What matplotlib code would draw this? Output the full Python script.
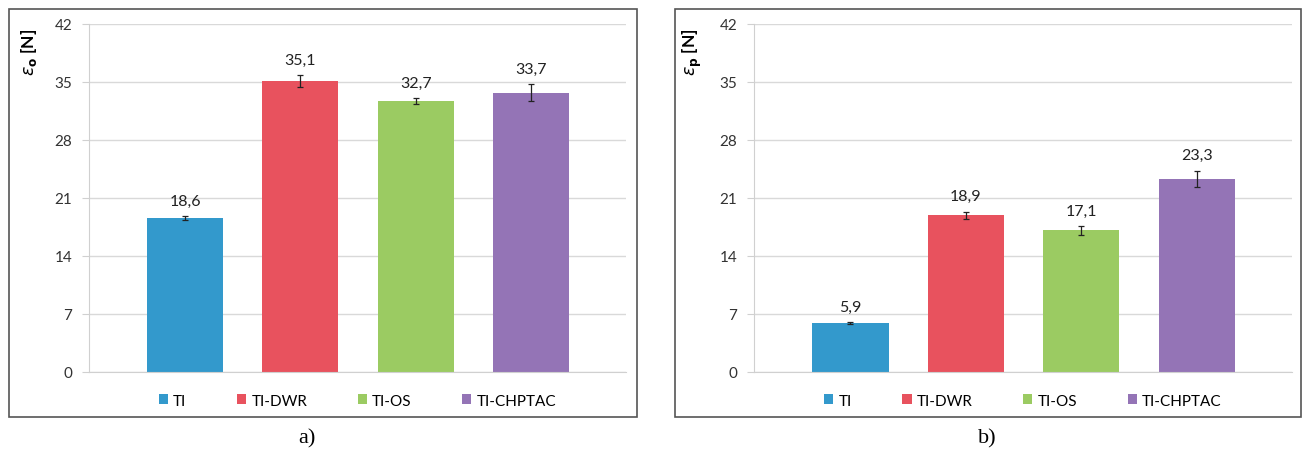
import matplotlib
matplotlib.use("Agg")
import matplotlib.pyplot as plt
from matplotlib.patches import Rectangle

# data
categories = ['TI', 'TI-DWR', 'TI-OS', 'TI-CHPTAC']
eps_o = [18.6, 35.1, 32.7, 33.7]
eps_o_err = [0.2, 0.7, 0.4, 1.0]
eps_p = [5.9, 18.9, 17.1, 23.3]
eps_p_err = [0.1, 0.45, 0.55, 1.0]
yticks = [0, 7, 14, 21, 28, 35, 42]
colors = ['#3399CC', '#E8525E', '#9BCB62', '#9474B6']

plt.rcParams['font.family'] = ['Lato', 'DejaVu Sans']

W, H = 1305, 452
fig = plt.figure(figsize=(W / 100, H / 100), dpi=100)


def px_axes(x0, x1, y0, y1):
    return fig.add_axes([x0 / W, 1 - y1 / H, (x1 - x0) / W, (y1 - y0) / H])


def draw_panel(ax, values, errs, ylabel):
    x = list(range(len(categories)))
    bars = ax.bar(x, values, width=0.66, color=colors, zorder=2)
    ax.errorbar(x, values, yerr=errs, fmt='none', ecolor='#222222',
                elinewidth=0.9, capsize=2.2, capthick=0.9, zorder=3)
    for xi, v, e in zip(x, values, errs):
        ax.annotate(f'{v:.1f}'.replace('.', ','), (xi, v + e),
                    xytext=(0, 6), textcoords='offset points',
                    ha='center', va='bottom', fontsize=11.5, color='#222222')
    ax.set_xlim(-0.835, 3.825)
    ax.set_ylim(0, 42)
    ax.set_yticks(yticks)
    ax.set_xticks([])
    ax.grid(axis='y', color='#D9D9D9', linewidth=1.0, zorder=0)
    for s in ['top', 'right']:
        ax.spines[s].set_visible(False)
    ax.spines['left'].set_color('#D0D0D0')
    ax.spines['bottom'].set_color('#D0D0D0')
    ax.tick_params(axis='y', length=5, color='#D0D0D0', labelsize=11,
                   labelcolor='#333333', pad=7)
    ax.set_ylabel(ylabel, fontsize=12.5, fontweight='bold', loc='top')
    ax.yaxis.set_label_coords(-0.093, 0.99)
    ax.legend(bars, categories, loc='center', bbox_to_anchor=(0.5, -0.082),
              ncol=4, frameon=False, fontsize=11, handlelength=0.6,
              handleheight=0.6, handletextpad=0.35, columnspacing=3.3)


ax1 = px_axes(89, 626, 25, 373)
draw_panel(ax1, eps_o, eps_o_err, r'$\varepsilon_\mathbf{o}$ [N]')
ax2 = px_axes(754, 1292, 25, 373)
draw_panel(ax2, eps_p, eps_p_err, r'$\varepsilon_\mathbf{p}$ [N]')

# panel frames
for x0, x1 in [(9, 637), (675, 1301)]:
    fig.add_artist(Rectangle((x0 / W, 1 - 418 / H), (x1 - x0) / W, 408 / H,
                             transform=fig.transFigure, fill=False,
                             edgecolor='#555555', linewidth=1.2))

fig.text(307 / W, 1 - 439 / H, 'a)', ha='center', va='center',
         fontsize=16, family='Liberation Serif')
fig.text(987 / W, 1 - 439 / H, 'b)', ha='center', va='center',
         fontsize=16, family='Liberation Serif')

fig.savefig('out.png', dpi=100)
